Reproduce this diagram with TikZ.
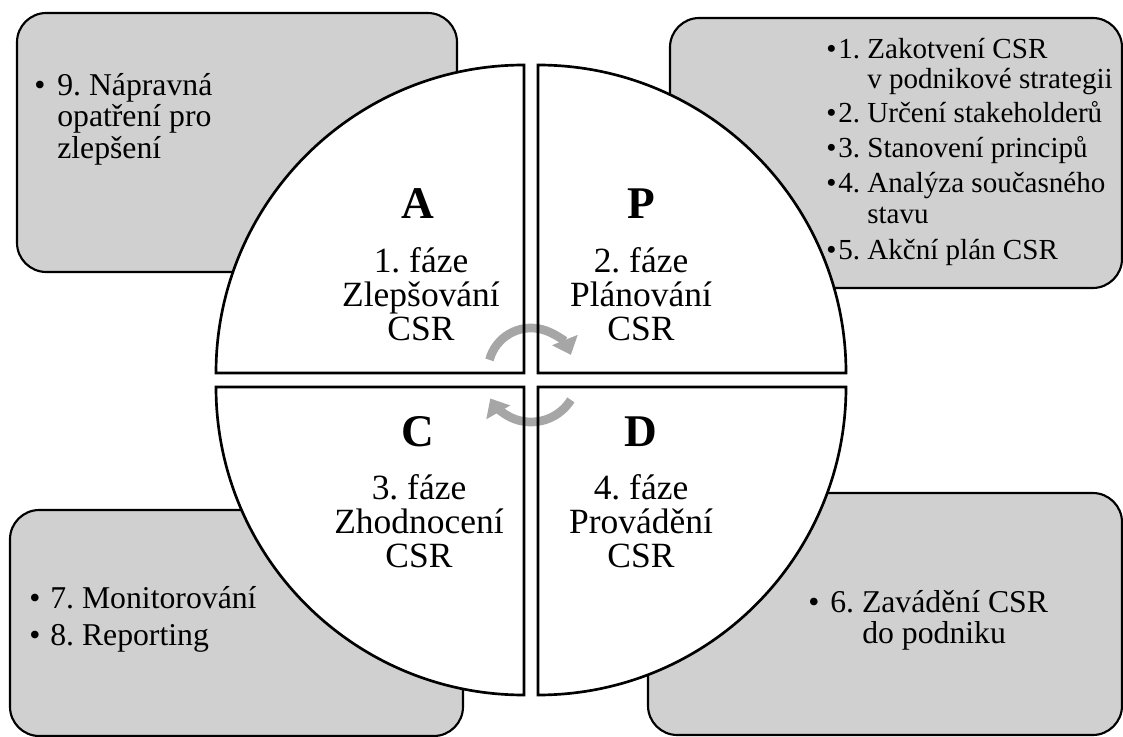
\documentclass[tikz,border=0pt]{standalone}
\usepackage{fontspec}
\setmainfont{Liberation Serif}
\usetikzlibrary{arrows.meta}
\definecolor{boxgray}{RGB}{208,208,208}
\definecolor{arrowgray}{RGB}{166,166,166}
\frenchspacing

\begin{document}
\begin{tikzpicture}[x=0.75pt,y=-0.75pt,
  sidebox/.style={draw=black, line width=1.6pt, fill=boxgray, rounded corners=22pt},
  quarterfill/.style={fill=white},
  quarterline/.style={draw=black, line width=2pt, line join=miter},
  boxtxt/.style={anchor=base west, inner sep=0pt, font=\fontsize{23.8pt}{24pt}\selectfont},
  ptxt/.style={anchor=base west, inner sep=0pt, font=\fontsize{21.8pt}{22pt}\selectfont},
  phasetxt/.style={anchor=base, inner sep=0pt, font=\fontsize{26.6pt}{27pt}\selectfont},
  letter/.style={anchor=base, inner sep=0pt, font=\fontsize{34pt}{34pt}\selectfont\bfseries},
  cyclearrow/.style={draw=arrowgray, line width=6.5pt, -{Triangle[length=12pt,width=20pt]}}
]
\useasboundingbox (0,0) rectangle (1123,737);

% corner boxes
\draw[sidebox] (17,13) rectangle (457,272);
\draw[sidebox] (670,18) rectangle (1122,288);
\draw[sidebox] (10,510) rectangle (463,736);
\draw[sidebox] (648,493) rectangle (1122,735);

% centres of the four quarters
\coordinate (cA) at (524,373);
\coordinate (cP) at (538,373);
\coordinate (cC) at (524,387);
\coordinate (cD) at (538,387);

% white quarters
\fill[quarterfill] (cA) -- ++(180:308) arc[start angle=180, end angle=270, radius=308] -- cycle;
\fill[quarterfill] (cP) -- ++(270:308) arc[start angle=270, end angle=360, radius=308] -- cycle;
\fill[quarterfill] (cC) -- ++(90:308) arc[start angle=90, end angle=180, radius=308] -- cycle;
\fill[quarterfill] (cD) -- ++(0:308) arc[start angle=0, end angle=90, radius=308] -- cycle;

% cycle arrows
\coordinate (arcT) at (531,371);
\coordinate (arcB) at (531,375);
\draw[cyclearrow] (arcT) ++(195:43) arc[start angle=195, end angle=338, radius=43];
\draw[cyclearrow] (arcB) ++(32:47) arc[start angle=32, end angle=150, radius=47];

% quarter outlines
\draw[quarterline] (cA) -- ++(180:308) arc[start angle=180, end angle=270, radius=308] -- cycle;
\draw[quarterline] (cP) -- ++(270:308) arc[start angle=270, end angle=360, radius=308] -- cycle;
\draw[quarterline] (cC) -- ++(90:308) arc[start angle=90, end angle=180, radius=308] -- cycle;
\draw[quarterline] (cD) -- ++(0:308) arc[start angle=0, end angle=90, radius=308] -- cycle;

% phase labels
\node[letter] (lA) at (418,219) {A};
\node[phasetxt] (fA1) at (421,273) {1. fáze};
\node[phasetxt] (fA2) at (421,307) {Zlepšování};
\node[phasetxt] (fA3) at (421,341) {CSR};

\node[letter] (lP) at (641,219) {P};
\node[phasetxt] (fP1) at (641,273) {2. fáze};
\node[phasetxt] (fP2) at (641,307) {Plánování};
\node[phasetxt] (fP3) at (641,341) {CSR};

\node[letter] (lC) at (418,446) {C};
\node[phasetxt] (fC1) at (419,499) {3. fáze};
\node[phasetxt] (fC2) at (419,533) {Zhodnocení};
\node[phasetxt] (fC3) at (419,567) {CSR};

\node[letter] (lD) at (641,446) {D};
\node[phasetxt] (fD1) at (641,499) {4. fáze};
\node[phasetxt] (fD2) at (641,533) {Provádění};
\node[phasetxt] (fD3) at (641,567) {CSR};

% top-left box
\node[boxtxt] (bA) at (34,96) {•};
\node[boxtxt] (tA1) at (57,96) {9. Nápravná};
\node[boxtxt] (tA2) at (57,127) {opatření pro};
\node[boxtxt] (tA3) at (57,159) {zlepšení};

% top-right box
\node[ptxt] (bP1) at (826,59) {•};
\node[ptxt] (tP1) at (838,59) {1. Zakotvení CSR};
\node[ptxt] (tP1b) at (867,89) {v podnikové strategii};
\node[ptxt] (bP2) at (826,123) {•};
\node[ptxt] (tP2) at (838,123) {2. Určení stakeholderů};
\node[ptxt] (bP3) at (826,158) {•};
\node[ptxt] (tP3) at (838,158) {3. Stanovení principů};
\node[ptxt] (bP4) at (826,193) {•};
\node[ptxt] (tP4) at (838,193) {4. Analýza současného};
\node[ptxt] (tP4b) at (867,224) {stavu};
\node[ptxt] (bP5) at (826,260) {•};
\node[ptxt] (tP5) at (838,260) {5. Akční plán CSR};

% bottom-left box
\node[boxtxt] (bC1) at (29,608) {•};
\node[boxtxt] (tC1) at (50,608) {7. Monitorování};
\node[boxtxt] (bC2) at (29,645) {•};
\node[boxtxt] (tC2) at (50,645) {8. Reporting};

% bottom-right box
\node[boxtxt] (bD1) at (808,612) {•};
\node[boxtxt] (tD1) at (830,612) {6. Zavádění CSR};
\node[boxtxt] (tD2) at (862,643) {do podniku};
\end{tikzpicture}
\end{document}
